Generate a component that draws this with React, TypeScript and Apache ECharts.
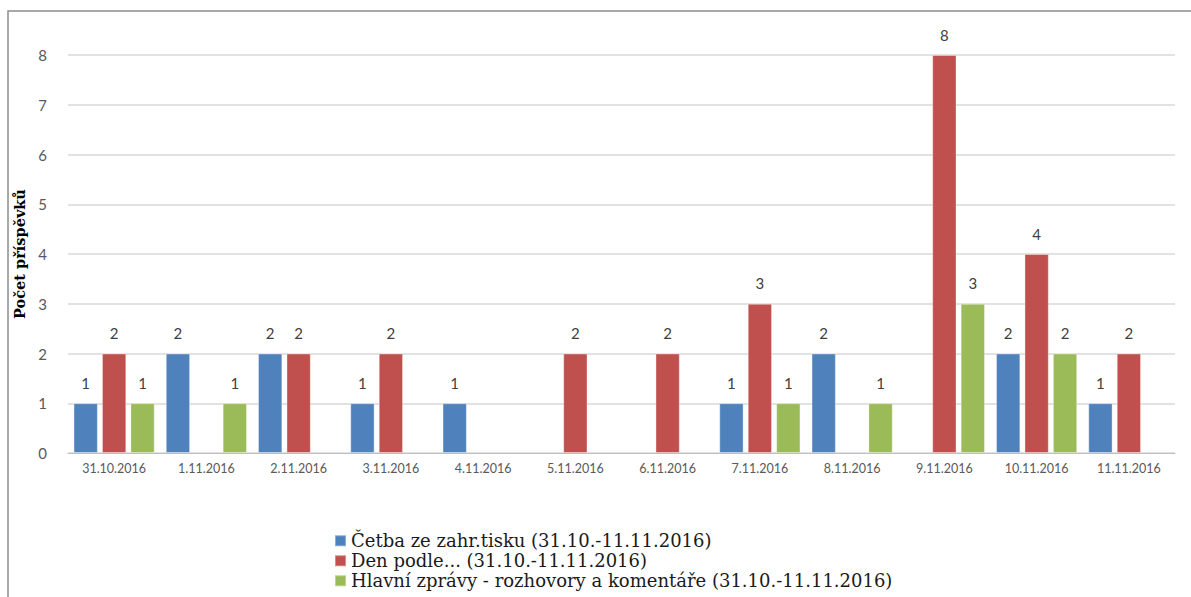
import React, { useEffect, useRef } from "react";
import * as echarts from "echarts";

const categories = [
  "31.10.2016", "1.11.2016", "2.11.2016", "3.11.2016", "4.11.2016", "5.11.2016",
  "6.11.2016", "7.11.2016", "8.11.2016", "9.11.2016", "10.11.2016", "11.11.2016",
];
const seriesNames = [
  "Četba ze zahr.tisku (31.10.-11.11.2016)",
  "Den podle... (31.10.-11.11.2016)",
  "Hlavní zprávy - rozhovory a komentáře (31.10.-11.11.2016)",
];
const cetba = [1, 2, 2, 1, 1, null, null, 1, 2, null, 2, 1];
const denPodle = [2, null, 2, 2, null, 2, 2, 3, null, 8, 4, 2];
const hlavni = [1, 1, null, null, null, null, null, 1, 1, 3, 2, null];
const yTicks = [0, 1, 2, 3, 4, 5, 6, 7, 8];
const colors = ["#4F81BD", "#C0504D", "#9BBB59"];

export default function App() {
  const ref = useRef<HTMLDivElement>(null);
  useEffect(() => {
    if (!ref.current) return;
    const chart = echarts.init(ref.current, null, { renderer: "svg" });
    const mk = (name: string, data: (number | null)[], color: string) => ({
      name,
      type: "bar",
      data: data.map((v) => (v === null ? "-" : v)),
      itemStyle: { color, borderColor: "rgba(255,255,255,0.35)", borderWidth: 1 },
      barGap: "17%",
      barCategoryGap: "12%",
      label: {
        show: true,
        position: "top",
        distance: 13,
        fontSize: 15,
        color: "#404040",
        fontFamily: "Lato",
      },
    });
    chart.setOption({
      animation: false,
      backgroundColor: "#ffffff",
      color: colors,
      textStyle: { fontFamily: "DejaVu Serif" },
      graphic: [
        {
          type: "rect",
          shape: { x: 8, y: 11, width: 1200, height: 600 },
          style: { fill: "none", stroke: "#8c8c8c", lineWidth: 1.5 },
          silent: true,
        },
      ],
      grid: { left: 68, right: 16, top: 55, bottom: 144, containLabel: false },
      legend: {
        orient: "vertical",
        left: 334,
        top: 531,
        height: 66,
        padding: 0,
        itemWidth: 11,
        itemHeight: 11,
        itemGap: 0.5,
        icon: "rect",
        data: seriesNames,
        textStyle: {
          fontFamily: "DejaVu Serif",
          fontSize: 18,
          lineHeight: 19.5,
          color: "#1a1a1a",
        },
      },
      xAxis: {
        type: "category",
        data: categories,
        axisTick: { show: false },
        axisLine: { lineStyle: { color: "#bfbfbf", width: 1 } },
        axisLabel: {
          fontSize: 12.5,
          color: "#595959",
          fontFamily: "Lato",
          margin: 9,
          interval: 0,
        },
      },
      yAxis: {
        type: "value",
        min: yTicks[0],
        max: yTicks[yTicks.length - 1],
        interval: 1,
        name: "Počet příspěvků",
        nameLocation: "middle",
        nameGap: 32,
        nameTextStyle: {
          fontFamily: "DejaVu Serif",
          fontWeight: "bold",
          fontSize: 14.5,
          color: "#000000",
        },
        axisLine: { show: false },
        axisTick: { show: false },
        axisLabel: {
          fontSize: 15,
          color: "#595959",
          fontFamily: "Lato",
          margin: 21,
        },
        splitLine: { lineStyle: { color: "#d9d9d9", width: 1.5 } },
      },
      series: [
        mk(seriesNames[0], cetba, colors[0]),
        mk(seriesNames[1], denPodle, colors[1]),
        mk(seriesNames[2], hlavni, colors[2]),
      ],
    });
    return () => chart.dispose();
  }, []);
  return (
    <div
      ref={ref}
      style={{ position: "fixed", left: 0, top: 0, width: 1191, height: 597 }}
    />
  );
}
